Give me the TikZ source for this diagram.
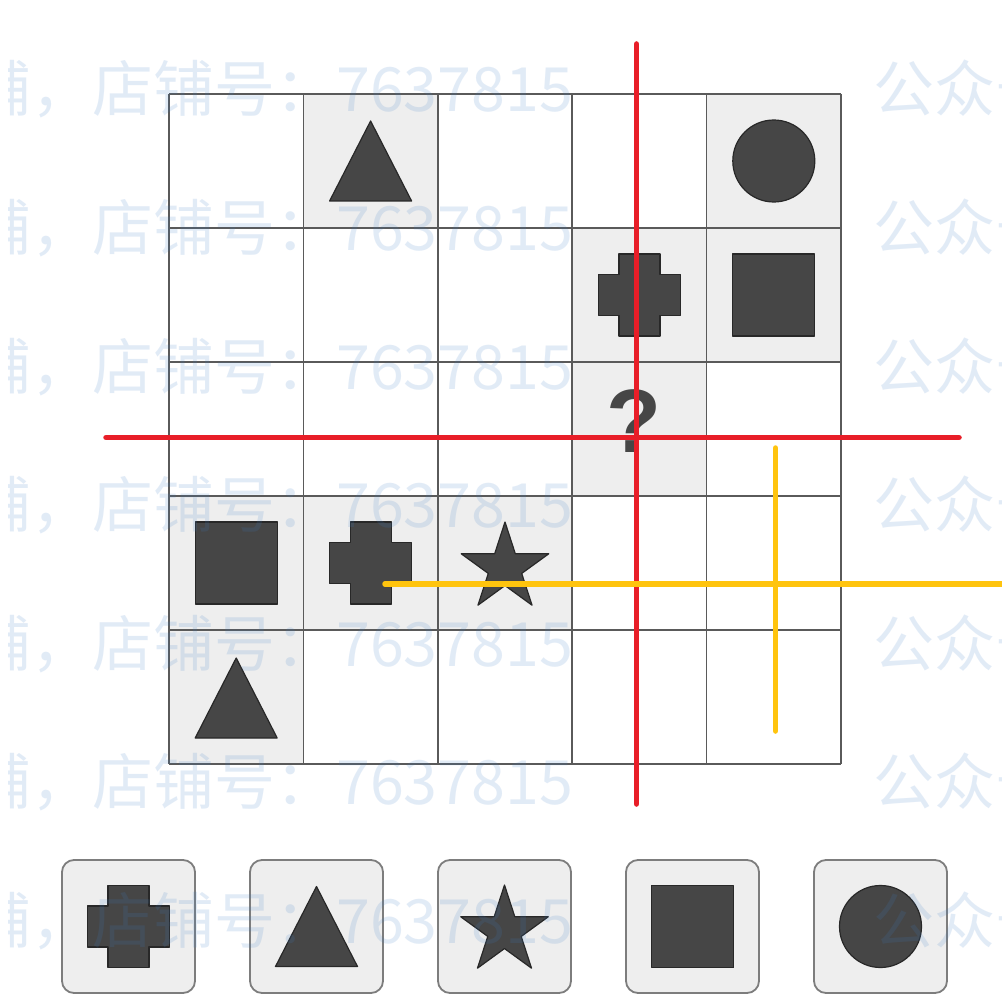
\documentclass[tikz,border=0pt]{standalone}
\usepackage{fontspec}
\newfontfamily\wmfont{Noto Sans CJK SC}
\newfontfamily\qfont{Liberation Sans}
\definecolor{gridgray}{RGB}{90,90,90}
\definecolor{cellgray}{RGB}{238,238,238}
\definecolor{shapefill}{RGB}{70,70,70}
\definecolor{shapeline}{RGB}{40,40,40}
\definecolor{boxline}{RGB}{125,125,125}
\definecolor{myred}{RGB}{232,30,40}
\definecolor{myyellow}{RGB}{255,196,14}
\definecolor{wmblue}{RGB}{60,125,200}
\begin{document}
\begin{tikzpicture}[x=1pt,y=-1pt,
  cellgrid/.style={draw=gridgray,line width=1.5pt},
  shp/.style={fill=shapefill,draw=shapeline,line width=1.2pt,line join=round},
  redline/.style={draw=myred,line width=5.5pt,line cap=round},
  yelline/.style={draw=myyellow,line width=5.5pt,line cap=round},
  optbox/.style={draw=boxline,fill=cellgray,line width=1.8pt,rounded corners=12pt},
  wm/.style={text=wmblue,text opacity=0.15,inner sep=0pt,anchor=base west,font=\wmfont\fontsize{61}{61}\selectfont},
  qmark/.style={text=shapefill,inner sep=0pt,anchor=base,font=\qfont\bfseries\fontsize{90}{90}\selectfont},
  shtri/.pic={\path[shp] (0,-40)--(41,40)--(-41,40)--cycle;},
  shsq/.pic={\path[shp] (-41,-41) rectangle (41,41);},
  shcirc/.pic={\path[shp] (0,0) circle[radius=41];},
  shcross/.pic={\path[shp] (-20.5,-41)--(20.5,-41)--(20.5,-20.5)--(41,-20.5)--(41,20.5)--(20.5,20.5)--(20.5,41)--(-20.5,41)--(-20.5,20.5)--(-41,20.5)--(-41,-20.5)--(-20.5,-20.5)--cycle;},
  shstar/.pic={\path[shp] (0,-46)--(10.33,-14.21)--(43.75,-14.21)--(16.71,5.43)--(27.04,37.21)--(0,17.57)--(-27.04,37.21)--(-16.71,5.43)--(-43.75,-14.21)--(-10.33,-14.21)--cycle;}
]
\useasboundingbox (0,0) rectangle (1002,995);
\fill[white] (0,0) rectangle (1002,995);
% shaded cells
\foreach \c/\r in {2/1,5/1,4/2,5/2,4/3,1/4,2/4,3/4,1/5}
  \fill[cellgray] ({169+134.4*(\c-1)},{94+134*(\r-1)}) rectangle ++(134.4,134);
% grid
\foreach \i in {0,...,5} {
  \draw[cellgrid] ({169+134.4*\i},94) -- ({169+134.4*\i},764);
  \draw[cellgrid] (169,{94+134*\i}) -- (841,{94+134*\i});
}
% shapes in grid
\pic at (370.6,161) {shtri};
\pic at (773.8,161) {shcirc};
\pic at (639.4,295) {shcross};
\pic at (773.8,295) {shsq};
\node[qmark] (q) at (634,452) {?};
\pic at (236.2,563) {shsq};
\pic at (370.6,563) {shcross};
\pic at (505,568) {shstar};
\pic at (236.2,698) {shtri};
% options
\foreach \x in {128.5,316.5,504.5,692.5,880.5} {
  \draw[optbox] ({\x-66.5},860) rectangle ({\x+66.5},993);
}
\pic at (128.5,926.5) {shcross};
\pic at (316.5,926.5) {shtri};
\pic at (504.5,931) {shstar};
\pic at (692.5,926.5) {shsq};
\pic at (880.5,926.5) {shcirc};
% lines
\coordinate (rv1) at (636.5,44);
\coordinate (rv2) at (636.5,804);
\coordinate (rh1) at (106,437.5);
\coordinate (rh2) at (959,437.5);
\coordinate (yh1) at (385,584);
\coordinate (yh2) at (1010,584);
\coordinate (yv1) at (775.5,448);
\coordinate (yv2) at (775.5,731);
\draw[redline] (rv1) -- (rv2);
\draw[redline] (rh1) -- (rh2);
\draw[yelline] (yh1) -- (yh2);
\draw[yelline] (yv1) -- (yv2);
% watermark
\begin{scope}
\clip (8,0) rectangle (1002,995);
\foreach \k in {0,...,6} {
  \node[wm] (wl\k) at (-30,{112+138.5*\k}) {铺，店铺号：7637815};
  \node[wm] (wr\k) at (873,{112+138.5*\k}) {公众号：7637815};
}
\end{scope}
\end{tikzpicture}
\end{document}
